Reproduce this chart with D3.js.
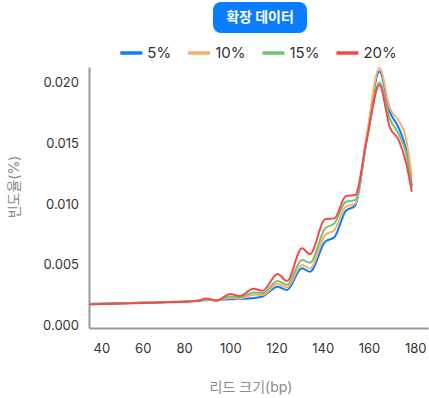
<!DOCTYPE html>
<html>
<head>
<meta charset="utf-8">
<script src="https://cdn.jsdelivr.net/npm/d3@7"></script>
<style>
  html, body { margin: 0; padding: 0; background: #fff; }
  svg text { font-family: Inter, "Noto Sans CJK KR", sans-serif; }
</style>
</head>
<body>
<div id="chart"></div>
<script>
// read size (bp)
var readSize = [34, 50, 65, 80, 86, 89.5, 94, 100, 104, 110, 114, 120.5, 124.5, 131, 134.5, 141, 145, 150, 154, 159, 164.5, 169, 173, 176, 178.5];

var seriesNames = ["5%", "10%", "15%", "20%"];
var seriesColors = ["#0a7cff", "#fdad6b", "#72c274", "#f54a4a"];

var freq5 = [0.00175, 0.00182, 0.00189, 0.00197, 0.00203, 0.00206, 0.00209, 0.00214, 0.00218, 0.00226, 0.00238, 0.00318, 0.00291, 0.00470, 0.00442, 0.00689, 0.00725, 0.00944, 0.00985, 0.0154, 0.0209, 0.0176, 0.0162, 0.0145, 0.0115];
var freq10 = [0.00175, 0.00182, 0.00189, 0.00196, 0.00202, 0.00210, 0.00207, 0.00226, 0.00222, 0.00252, 0.00250, 0.00340, 0.00313, 0.00497, 0.00468, 0.00744, 0.00785, 0.00977, 0.01000, 0.0156, 0.0212, 0.0179, 0.0168, 0.0154, 0.0122];
var freq15 = [0.00175, 0.00182, 0.00189, 0.00196, 0.00202, 0.00214, 0.00206, 0.00238, 0.00230, 0.00270, 0.00265, 0.00365, 0.00334, 0.00538, 0.00516, 0.00799, 0.00840, 0.01018, 0.01032, 0.0152, 0.0200, 0.0170, 0.0157, 0.0142, 0.0113];
var freq20 = [0.00172, 0.00179, 0.00187, 0.00194, 0.00200, 0.00222, 0.00203, 0.00258, 0.00241, 0.00301, 0.00285, 0.00423, 0.00365, 0.00634, 0.00587, 0.00873, 0.00881, 0.01065, 0.01073, 0.0153, 0.0198, 0.0163, 0.0152, 0.0134, 0.0110];

var xTicks = [40, 60, 80, 100, 120, 140, 160, 180];
var yTicks = [0, 0.005, 0.010, 0.015, 0.020];

var title = "확장 데이터";
var xTitle = "리드 크기(bp)";
var yTitle = "빈도율(%)";

var width = 429, height = 398;
var plotLeft = 89, plotRight = 428, plotTop = 67, plotBottom = 328;

var svg = d3.select("#chart").append("svg")
    .attr("width", width)
    .attr("height", height);

// x axis is slightly stretched toward the long reads in the source
var x = d3.scaleLinear()
    .domain([34, 80, 185.5])
    .range([plotLeft, 184, plotRight]);

var y = d3.scaleLinear()
    .domain([-0.00022, 0.02128])
    .range([plotBottom, plotTop]);

// title badge
var badge = svg.append("g").attr("transform", "translate(260,17.5)");
badge.append("rect")
    .attr("x", -47).attr("y", -15.5)
    .attr("width", 94).attr("height", 31)
    .attr("rx", 8)
    .attr("fill", "#0a7cff");
badge.append("text")
    .attr("text-anchor", "middle")
    .attr("dy", "0.35em")
    .attr("fill", "#fff")
    .attr("font-size", 14)
    .attr("font-weight", "bold")
    .text(title);

// legend
var legend = svg.append("g");
var lx = 0;
seriesNames.forEach(function (name, i) {
    var item = legend.append("g").attr("transform", "translate(" + lx + ",0)");
    item.append("rect")
        .attr("x", 0).attr("y", -1.75)
        .attr("width", 22).attr("height", 3.5)
        .attr("fill", seriesColors[i]);
    var t = item.append("text")
        .attr("x", 27)
        .attr("dy", "0.35em")
        .attr("font-size", 15)
        .attr("fill", "#333")
        .text(name);
    lx += 27 + t.node().getComputedTextLength() + 17;
});
lx -= 17;
legend.attr("transform", "translate(" + ((plotLeft + plotRight) / 2 - lx / 2) + ",53)");

// axes
var xAxis = svg.append("g")
    .attr("transform", "translate(0," + plotBottom + ")")
    .call(d3.axisBottom(x).tickValues(xTicks).tickSize(0).tickPadding(16));

var yAxis = svg.append("g")
    .attr("transform", "translate(" + plotLeft + ",0)")
    .call(d3.axisLeft(y).tickValues(yTicks).tickFormat(d3.format(".3f")).tickSize(0).tickPadding(10));

[xAxis, yAxis].forEach(function (ax) {
    ax.select(".domain").attr("stroke", "#999").attr("stroke-width", 2);
    ax.selectAll("text")
        .attr("font-size", 13)
        .attr("fill", "#333")
        .style("font-family", "Inter, 'Noto Sans CJK KR', sans-serif");
});

svg.append("text")
    .attr("x", 251).attr("y", 387)
    .attr("text-anchor", "middle")
    .attr("dy", "0.35em")
    .attr("font-size", 14)
    .attr("fill", "#8a8a8a")
    .text(xTitle);

svg.append("text")
    .attr("transform", "translate(14,187) rotate(-90)")
    .attr("text-anchor", "middle")
    .attr("dy", "0.35em")
    .attr("font-size", 14)
    .attr("fill", "#8a8a8a")
    .text(yTitle);

// lines
svg.append("clipPath").attr("id", "plot-clip")
    .append("rect")
    .attr("x", plotLeft).attr("y", plotTop - 10)
    .attr("width", plotRight - plotLeft).attr("height", plotBottom - plotTop + 10);

var line = d3.line()
    .x(function (d) { return x(d.size); })
    .y(function (d) { return y(d.value); })
    .curve(d3.curveMonotoneX);

var allSeries = [freq5, freq10, freq15, freq20];

svg.append("g")
    .attr("clip-path", "url(#plot-clip)")
    .selectAll("path")
    .data(allSeries)
    .enter().append("path")
    .attr("fill", "none")
    .attr("stroke", function (d, i) { return seriesColors[i]; })
    .attr("stroke-width", 2)
    .attr("stroke-linejoin", "round")
    .attr("d", function (vals) {
        return line(vals.map(function (v, j) { return { size: readSize[j], value: v }; }));
    });
</script>
</body>
</html>
